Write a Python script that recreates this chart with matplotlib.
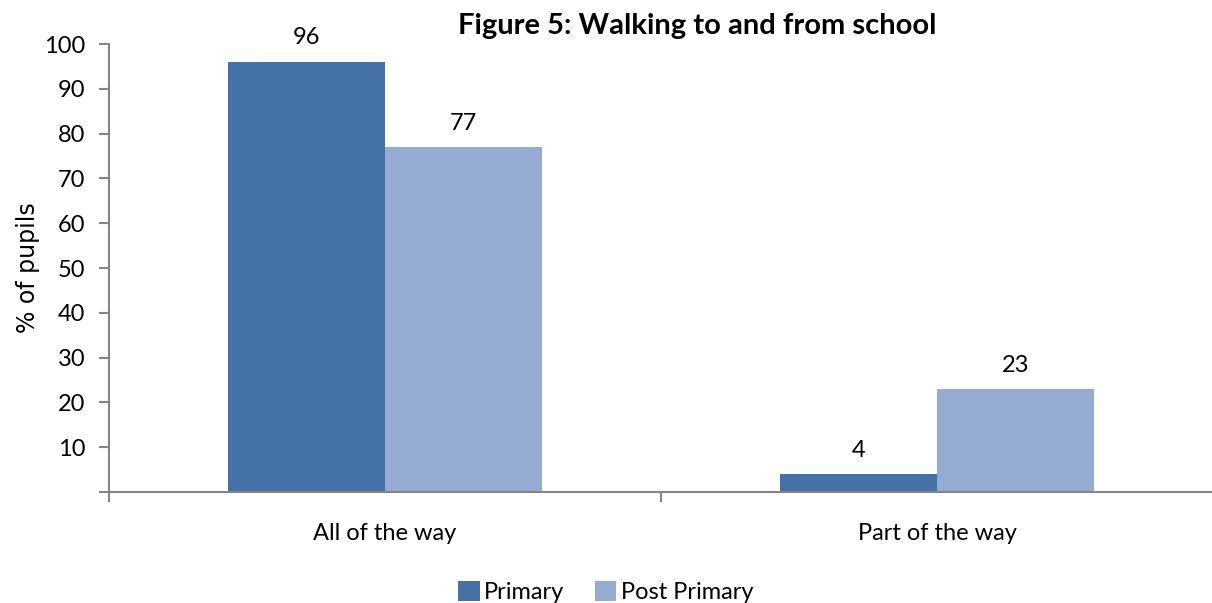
import matplotlib
matplotlib.use("Agg")
from matplotlib import pyplot as plt
import numpy as np

categories = ["All of the way", "Part of the way"]
primary = [96, 4]
post_primary = [77, 23]
series_names = ["Primary", "Post Primary"]
y_ticks = [10, 20, 30, 40, 50, 60, 70, 80, 90, 100]

col_primary = "#4472a6"
col_post = "#95abd2"
axis_grey = "#868686"

plt.rcParams['font.family'] = ['Lato', 'DejaVu Sans']

fig = plt.figure(figsize=(12.12, 6.03), dpi=100)
ax = fig.add_axes([0.0899, 0.184, 0.911, 0.743])

x = np.arange(len(categories))
w = 0.285
b1 = ax.bar(x - w / 2, primary, w, color=col_primary, label=series_names[0])
b2 = ax.bar(x + w / 2, post_primary, w, color=col_post, label=series_names[1])

for bars, vals in [(b1, primary), (b2, post_primary)]:
    for rect, v in zip(bars, vals):
        ax.text(rect.get_x() + rect.get_width() / 2, v + 3, str(v),
                ha='center', va='bottom', fontsize=17)

ax.set_xlim(-0.5, 1.5)
ax.set_ylim(0, 100)
ax.set_yticks([0] + y_ticks)
ax.set_yticklabels([""] + [str(t) for t in y_ticks], fontsize=17)
ax.set_xticks(x)
ax.set_xticklabels(categories, fontsize=17)
ax.tick_params(axis='x', length=0, pad=22)
ax.tick_params(axis='y', length=7, color=axis_grey, width=1.5, pad=10)

# category separators on x axis
for sep in [-0.5, 0.5, 1.5]:
    ax.plot([sep, sep], [0, -2], color=axis_grey, lw=1.5, clip_on=False)

for s in ['top', 'right']:
    ax.spines[s].set_visible(False)
for s in ['left', 'bottom']:
    ax.spines[s].set_color(axis_grey)
    ax.spines[s].set_linewidth(1.5)

ax.set_ylabel("% of pupils", fontsize=17, family='DejaVu Sans', labelpad=3)

fig.text(0.575, 0.957, "Figure 5: Walking to and from school", ha='center', va='center',
         fontsize=21, fontweight='bold')

fig.legend(handles=[b1, b2], labels=series_names, loc='center', bbox_to_anchor=(0.5, 0.018),
           ncol=2, frameon=False, fontsize=17, handlelength=0.9, handleheight=0.9,
           handletextpad=0.2, columnspacing=1.3)

plt.savefig('out.png', dpi=100)
